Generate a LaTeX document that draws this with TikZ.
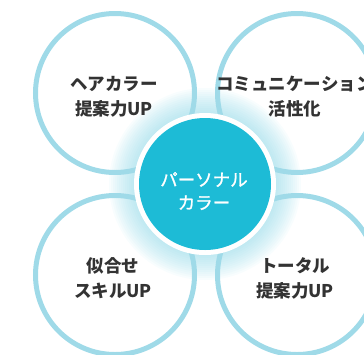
\documentclass[tikz,border=0pt]{standalone}
\usepackage{fontspec}
\newfontfamily\jpfont{Noto Sans CJK JP}
\newfontfamily\jpmedium{Noto Sans CJK JP}[FakeBold=1.2]
\definecolor{ringblue}{HTML}{9FDAE8}
\definecolor{coreblue}{HTML}{1DBBD6}
\definecolor{glowblue}{HTML}{7FD2E4}
\definecolor{textgray}{HTML}{333333}
\tikzset{
	ring/.style={draw=ringblue, line width=5pt},
	itemtext/.style={align=center, text=textgray, inner sep=0pt, font=\jpfont\bfseries\fontsize{17.5}{25}\selectfont},
	coretext/.style={align=center, text=white, inner sep=0pt, font=\jpmedium\fontsize{17.5}{23}\selectfont}
}

\begin{document}
\begin{tikzpicture}[x=1pt,y=-1pt]
			%%%%% START %%%%%
			\useasboundingbox (0,0) rectangle (364,354);
			
			\foreach \r in {72,74,...,96}
				\fill[glowblue, opacity=0.05] (205,184) circle (\r pt);
			
			\draw[ring] (115,93) circle (79.5pt);
			\draw[ring] (297,93) circle (79.5pt);
			\draw[ring] (115,275) circle (79.5pt);
			\draw[ring] (297,275) circle (79.5pt);
			
			\node[itemtext] (hair) at (114,97) {ヘアカラー\\提案力UP};
			\node[itemtext] (comm) at (295,97) {コミュニケーション\\活性化};
			\node[itemtext] (match) at (113,278) {似合せ\\スキルUP};
			\node[itemtext] (total) at (295,278) {トータル\\提案力UP};
			
			\fill[white] (205,184) circle (71pt);
			\fill[coreblue] (205,184) circle (66pt);
			\node[coretext] (pc) at (204,191) {パーソナル\\カラー};
			%%%%% END %%%%%
\end{tikzpicture}
\end{document}
